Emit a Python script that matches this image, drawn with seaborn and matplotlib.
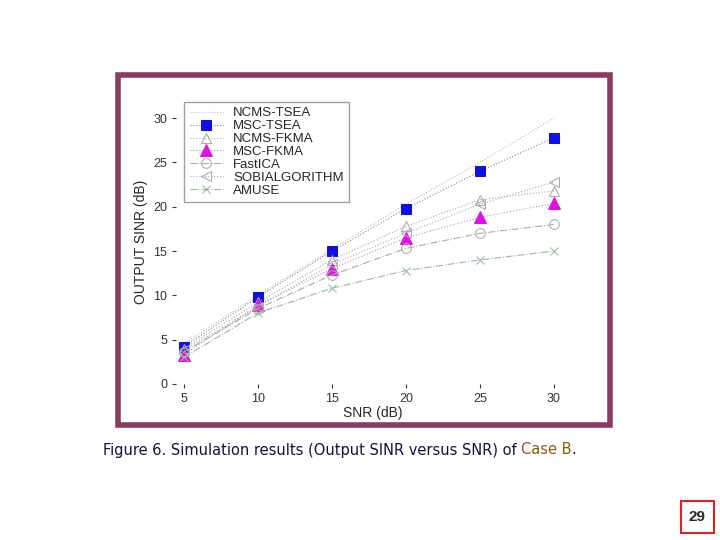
import matplotlib
matplotlib.use("Agg")
import matplotlib.pyplot as plt
import seaborn as sns
import pandas as pd
from matplotlib.patches import Rectangle

snr = [5, 10, 15, 20, 25, 30]
ncms_tsea = [4.5, 10.0, 15.2, 20.3, 25.0, 30.0]
msc_tsea = [4.2, 9.8, 15.0, 19.8, 24.0, 27.8]
ncms_fkma = [4.0, 9.2, 14.0, 17.8, 20.8, 21.8]
msc_fkma = [3.3, 8.9, 13.0, 16.5, 18.8, 20.4]
fastica = [3.6, 8.5, 12.3, 15.3, 17.0, 18.0]
sobi = [3.8, 8.7, 13.5, 17.0, 20.3, 22.8]
amuse = [3.0, 8.0, 10.8, 12.8, 14.0, 15.0]
xticks = [5, 10, 15, 20, 25, 30]
yticks = [0, 5, 10, 15, 20, 25, 30]

sns.set_style("white")
plt.rcParams['font.family'] = ['Liberation Sans', 'DejaVu Sans']
fig = plt.figure(figsize=(7.2, 5.4), dpi=100)
fig.patches.append(Rectangle((118/720, 1-425/540), 492/720, 350/540, transform=fig.transFigure,
                             fill=False, edgecolor='#8b3a62', linewidth=4))
ax = fig.add_axes([0.245, 0.289, 0.545, 0.525])

series = [
    ("NCMS-TSEA", ncms_tsea, dict(color='#bbbbbb', marker=None, linestyle=':')),
    ("MSC-TSEA", msc_tsea, dict(color='#888888', marker='s', markerfacecolor='#1010e0', markeredgecolor='#1010e0', markersize=7, linestyle=':')),
    ("NCMS-FKMA", ncms_fkma, dict(color='#aaaaaa', marker='^', markerfacecolor='none', markeredgecolor='#aaaaaa', markersize=7, linestyle=':')),
    ("MSC-FKMA", msc_fkma, dict(color='#cc88cc', marker='^', markerfacecolor='#e010e0', markeredgecolor='#e010e0', markersize=8, linestyle=':')),
    ("FastICA", fastica, dict(color='#aaaaaa', marker='o', markerfacecolor='none', markeredgecolor='#aaaaaa', markersize=7, linestyle='-.')),
    ("SOBIALGORITHM", sobi, dict(color='#aaaaaa', marker='<', markerfacecolor='none', markeredgecolor='#aaaaaa', markersize=7, linestyle=':')),
    ("AMUSE", amuse, dict(color='#99bb99', marker='x', markeredgecolor='#99bb99', markersize=6, linestyle='-.')),
]
for name, vals, kw in series:
    df = pd.DataFrame({"snr": snr, "v": vals})
    sns.lineplot(data=df, x="snr", y="v", ax=ax, label=name, linewidth=0.8, **kw)

ax.set_xlim(4.5, 31)
ax.set_ylim(0, 32)
ax.set_xticks(xticks)
ax.set_yticks(yticks)
ax.tick_params(labelsize=9, colors='#333333', length=3, direction='out', left=True, bottom=True)
for s in ax.spines.values():
    s.set_visible(False)
ax.set_xlabel("SNR (dB)", fontsize=10, labelpad=1)
ax.set_ylabel("OUTPUT SINR (dB)", fontsize=10)
ax.legend(loc='upper left', bbox_to_anchor=(0.02, 0.995), fontsize=9.5, frameon=True, fancybox=False,
          edgecolor='#888888', borderaxespad=0, handlelength=2.5, labelspacing=0.05)

y = 1-450/540
t = fig.text(103/720, y, "Figure 6. Simulation results (Output SINR versus SNR) of ", ha='left',
             va='center', fontsize=10.5, color='#111144', family=['DejaVu Sans'])
fig.canvas.draw()
bb = t.get_window_extent()
t2 = fig.text(bb.x1/720, y, "Case B", ha='left', va='center', fontsize=10.5, color='#8a5a10', family=['DejaVu Sans'])
fig.canvas.draw()
bb2 = t2.get_window_extent()
fig.text(bb2.x1/720, y, ".", ha='left', va='center', fontsize=10.5, color='#111144', family=['DejaVu Sans'])
fig.patches.append(Rectangle((681/720, 1-533/540), 33/720, 32/540, transform=fig.transFigure,
                             fill=False, edgecolor='#dd2222', linewidth=1.5))
fig.text(697/720, 1-517/540, "29", ha='center', va='center', fontsize=11, fontweight='bold')
fig.savefig("out.png", dpi=100)
